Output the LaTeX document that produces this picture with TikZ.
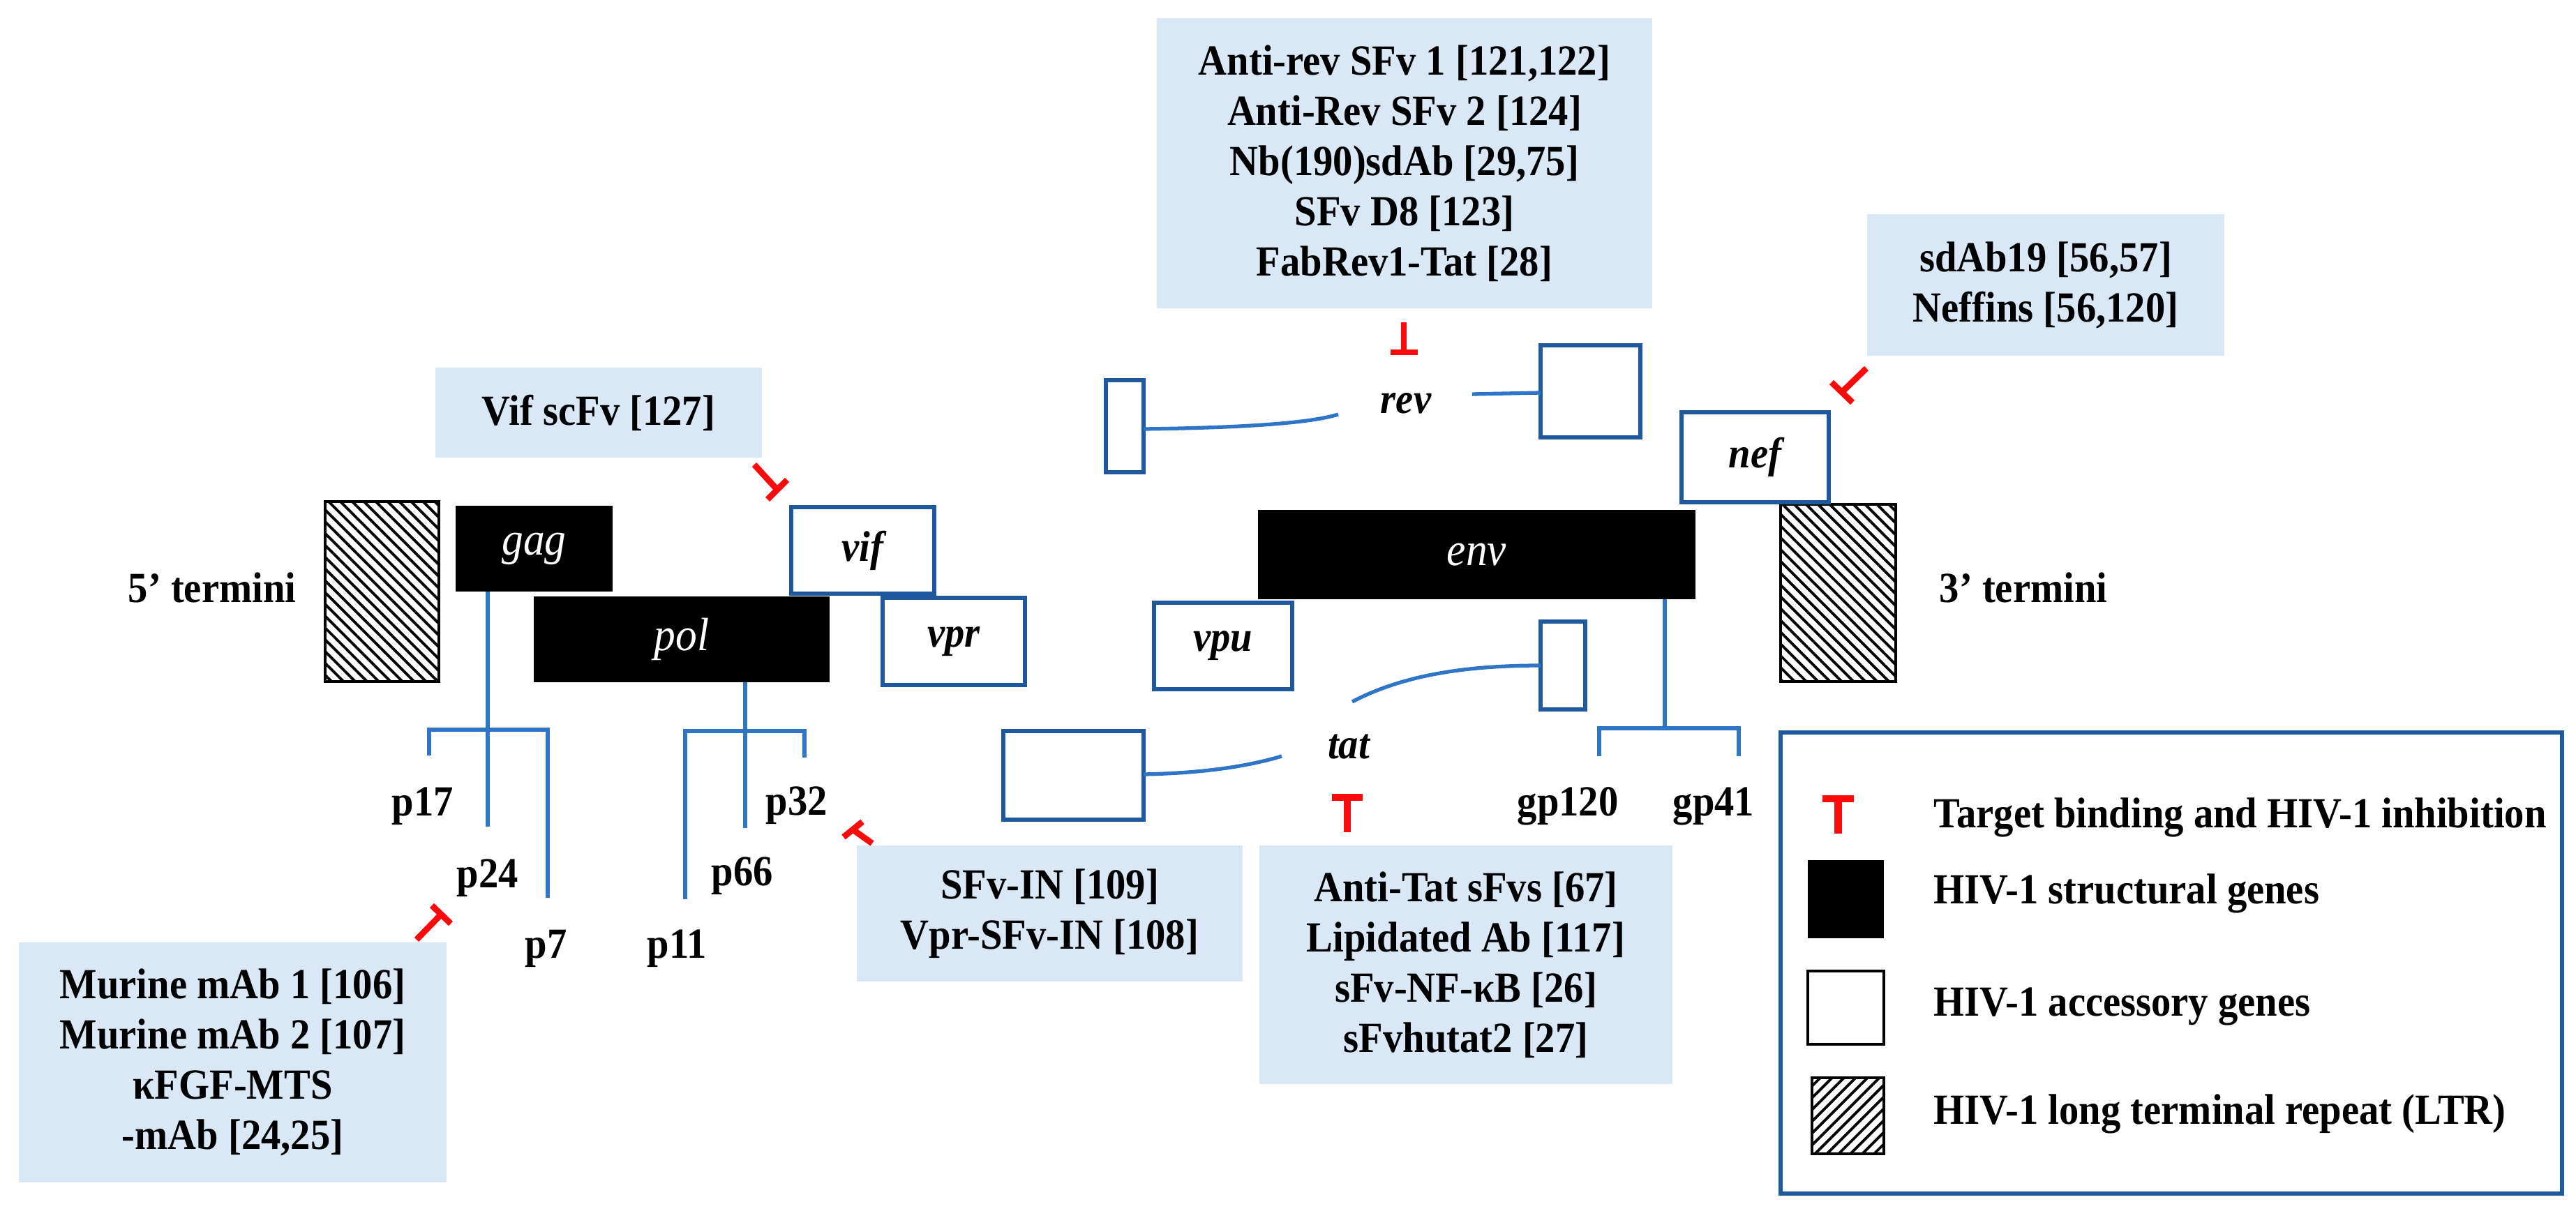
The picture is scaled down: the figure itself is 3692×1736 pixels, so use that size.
\documentclass[tikz,border=0pt]{standalone}
\usepackage{fontspec}
\setmainfont{Liberation Serif}[FakeStretch=0.92]
\usetikzlibrary{patterns.meta}
\definecolor{lb}{RGB}{218,232,245}
\definecolor{db}{RGB}{30,88,158}
\definecolor{cb}{RGB}{46,117,200}
\definecolor{rd}{RGB}{250,10,10}
\begin{document}
\fontsize{17.5}{20.5}\selectfont
\begin{tikzpicture}[x=0.01cm,y=-0.01cm,
  bx/.style 2 args={minimum width=#1*0.01cm,minimum height=#2*0.01cm,inner sep=0pt,outer sep=0pt},
  lab/.style={fill=lb,align=center,font=\bfseries},
  acc/.style={draw=db,line width=1.7pt,fill=white,font=\bfseries\itshape},
  str/.style={fill=black,text=white,font=\itshape\fontsize{19}{22}\selectfont},
  ltr/.style={draw=black,line width=1.3pt,pattern={Lines[angle=-45,distance=3.4pt,line width=1.1pt]}},
  con/.style={draw=cb,line width=1.5pt},
  inh/.style={draw=rd,line width=2.5pt},
  txt/.style={font=\bfseries,inner sep=0pt}]
\useasboundingbox (0,0) rectangle (3692,1736);
% label boxes
\node[lab,bx={468}{129}] (vifab) at (858,591.5) {Vif scFv [127]};
\node[lab,bx={710}{416}] (revab) at (2013,234) {Anti-rev SFv 1 [121,122]\\Anti-Rev SFv 2 [124]\\Nb(190)sdAb [29,75]\\SFv D8 [123]\\FabRev1-Tat [28]};
\node[lab,bx={512}{203}] (nefab) at (2932,408.5) {sdAb19 [56,57]\\Neffins [56,120]};
\node[lab,bx={553}{195}] (inab) at (1504.5,1309.5) {SFv-IN [109]\\Vpr-SFv-IN [108]};
\node[lab,bx={592}{342}] (tatab) at (2101,1383) {Anti-Tat sFvs [67]\\Lipidated Ab [117]\\sFv-NF-κB [26]\\sFvhutat2 [27]};
\node[lab,bx={613}{344}] (p24ab) at (333.5,1523) {Murine mAb 1 [106]\\Murine mAb 2 [107]\\κFGF-MTS\\-mAb [24,25]};
% genome
\node[ltr,bx={163}{258}] (ltr5) at (547.5,848) {};
\node[ltr,bx={165}{254}] (ltr3) at (2634.5,850) {};
\node[txt] (t5) at (304,842) {5’ termini};
\node[txt] (t3) at (2900,842) {3’ termini};
\node[str,bx={225}{123}] (gag) at (765.5,786.5) {gag};
\node[str,bx={424}{123}] (pol) at (977,916.5) {pol};
\node[str,bx={627}{128}] (env) at (2116.5,795) {env};
\node[acc,bx={205}{124}] (vif) at (1236.5,789) {vif};
\node[acc,bx={204}{125}] (vpr) at (1367,919.5) {vpr};
\node[acc,bx={198}{124}] (vpu) at (1753,926) {vpu};
\node[acc,bx={211}{129}] (nef) at (2515.5,655.5) {nef};
\node[acc,bx={54}{132}] (revL) at (1612,611) {};
\node[acc,bx={143}{132}] (revR) at (2279.5,561) {};
\node[acc,bx={64}{126}] (tatR) at (2240,954) {};
\node[acc,bx={201}{127}] (tatL) at (1538.5,1111.5) {};
\node[font=\bfseries\itshape,inner sep=0pt] (rev) at (2015,578) {rev};
\node[font=\bfseries\itshape,inner sep=0pt] (tat) at (1933,1070) {tat};
% split exons
\draw[con] (revL.east |- 0,615) .. controls (1790,613) and (1880,606) .. (1918,594);
\draw[con] (2110,565) -- (revR.west |- 0,563);
\draw[con] (tatL.east |- 0,1110) .. controls (1740,1108) and (1800,1095) .. (1837,1084);
\draw[con] (1938,1006) .. controls (2010,968) and (2100,954) .. (tatR.west);
% protein labels
\node[txt,anchor=base west] (p17) at (561,1169) {p17};
\node[txt,anchor=base west] (p24) at (654,1272) {p24};
\node[txt,anchor=base west] (p7) at (752,1373) {p7};
\node[txt,anchor=base west] (p32) at (1097,1168) {p32};
\node[txt,anchor=base west] (p66) at (1019,1269) {p66};
\node[txt,anchor=base west] (p11) at (927,1373) {p11};
\node[txt,anchor=base west] (gp120) at (2174,1169) {gp120};
\node[txt,anchor=base west] (gp41) at (2397,1169) {gp41};
% gag products
\coordinate (g1) at (615,1083); \coordinate (g2) at (699,1185); \coordinate (g3) at (785,1287);
\draw[con] (gag.south -| g2) -- (g2);
\draw[con] (g1) -- (615,1046) -- (785,1046) -- (g3);
% pol products
\coordinate (q1) at (982,1289); \coordinate (q2) at (1068,1187); \coordinate (q3) at (1153,1086);
\draw[con] (pol.south -| q2) -- (q2);
\draw[con] (q1) -- (982,1048) -- (1153,1048) -- (q3);
% env products
\coordinate (e1) at (2292,1084); \coordinate (e2) at (2386,1044); \coordinate (e3) at (2492,1084);
\draw[con] (env.south -| e2) -- (e2);
\draw[con] (e1) -- (2292,1044) -- (2492,1044) -- (e3);
% inhibition marks
\draw[inh] (1081,666) -- (1114,702); \draw[inh] (1100,716) -- (1128,688);
\draw[inh] (2012,462) -- (2012,505); \draw[inh] (1993,505) -- (2032,505);
\draw[inh] (2675,528) -- (2640,562); \draw[inh] (2625,548) -- (2655,577);
\draw[inh] (597,1347) -- (632,1311); \draw[inh] (619,1298) -- (646,1324);
\draw[inh] (1250,1209) -- (1222,1189); \draw[inh] (1209,1200) -- (1236,1178);
\draw[inh,line width=3pt] (1931,1143) -- (1931,1193); \draw[inh,line width=3pt] (1909,1143) -- (1953,1143);
% legend
\node[draw=db,line width=1.7pt,bx={1120}{661}] (leg) at (3112,1380.5) {};
\draw[inh,line width=3pt] (2634.5,1145) -- (2634.5,1195); \draw[inh,line width=3pt] (2612,1145) -- (2657,1145);
\node[fill=black,bx={109}{112}] (ls) at (2645.5,1289) {};
\node[draw=black,line width=1.3pt,bx={109}{105}] (la) at (2645.5,1444.5) {};
\node[draw=black,line width=1.3pt,pattern={Lines[angle=45,distance=3.4pt,line width=1.1pt]},bx={103}{109}] (ll) at (2648.5,1599.5) {};
\node[txt,anchor=base west] (l1) at (2771,1186) {Target binding and HIV-1 inhibition};
\node[txt,anchor=base west] (l2) at (2771,1295) {HIV-1 structural genes};
\node[txt,anchor=base west] (l3) at (2771,1456) {HIV-1 accessory genes};
\node[txt,anchor=base west] (l4) at (2771,1611) {HIV-1 long terminal repeat (LTR)};
\end{tikzpicture}
\end{document}
